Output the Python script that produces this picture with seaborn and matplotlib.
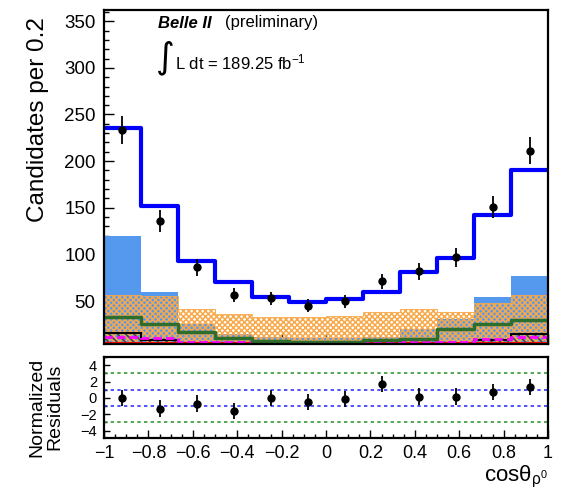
import numpy as np
import pandas as pd
import matplotlib
matplotlib.use("Agg")
import matplotlib.pyplot as plt
from matplotlib.ticker import MultipleLocator, FuncFormatter
import seaborn as sns

# binning of cos(theta_rho0), 12 bins from -1 to 1
bin_edges = np.linspace(-1, 1, 13)
bin_centers = 0.5 * (bin_edges[:-1] + bin_edges[1:])

# data points and errors
data_vals = [233, 136, 86, 56, 53, 45, 50, 71, 82, 97, 151, 211]
data_errs = [15, 12, 9, 7.5, 7, 7, 7, 8.5, 9, 10, 12, 14.5]

# fit components
total_fit = [235, 152, 93, 70, 54, 49, 52, 60, 81, 96, 142, 191]
light_blue = [120, 60, 25, 15, 11, 10, 10, 11, 20, 31, 54, 77]
orange_hatch = [57, 55, 42, 36, 33, 33, 34, 38, 42, 38, 48, 56]
green_line = [33, 25, 17, 10.5, 7, 6, 6, 8, 9, 20, 25, 30]
black_hatch = [16, 8, 4, 3, 2, 2, 2, 2, 3, 4, 8, 15]
magenta_line = [12, 10, 6, 6, 5, 5, 5, 5, 6, 6, 9, 11]
red_line = [5, 5, 5, 5, 5, 5, 5, 5, 5, 5, 5, 5]

# normalized residuals
resid_vals = [0.0, -1.3, -0.7, -1.6, 0.0, -0.5, -0.15, 1.7, 0.15, 0.15, 0.7, 1.3]
resid_errs = [1, 1, 1, 1, 1, 1, 1, 1, 1, 1, 1, 1]

hist_df = pd.DataFrame({"cos": bin_centers, "total": total_fit, "green": green_line})

sns.set_theme(style="ticks")
plt.rcParams["font.family"] = ["Liberation Sans", "DejaVu Sans"]
plt.rcParams["mathtext.fontset"] = "custom"
plt.rcParams["mathtext.rm"] = "Liberation Sans"
plt.rcParams["mathtext.it"] = "Liberation Sans:italic"
plt.rcParams["mathtext.bf"] = "Liberation Sans:bold"
plt.rcParams["hatch.linewidth"] = 1.1
plt.rcParams["axes.unicode_minus"] = True
for key in ("text.color", "axes.labelcolor", "xtick.color", "ytick.color",
            "axes.edgecolor"):
    plt.rcParams[key] = "black"

W, H = 574, 494
fig = plt.figure(figsize=(W / 100, H / 100), dpi=100)
ax = fig.add_axes([104 / W, 1 - 344 / H, 444 / W, 334 / H])
rax = fig.add_axes([104 / W, 1 - 438 / H, 444 / W, 81 / H])

# ---- main panel ----
ax.stairs(light_blue, bin_edges, fill=True, color="#5599ee", linewidth=0)
ax.stairs(orange_hatch, bin_edges, fill=True, facecolor="none",
          edgecolor="#f8a848", hatch="xxxxxx", linewidth=0.6)
ax.stairs(black_hatch, bin_edges, fill=True, facecolor="none",
          edgecolor="#444444", hatch="\\\\\\\\", linewidth=0)
ax.stairs(black_hatch, bin_edges, color="black", linewidth=1.5, baseline=None)
ax.stairs(red_line, bin_edges, color="red", linewidth=1.5, baseline=None)
ax.stairs(magenta_line, bin_edges, color="#ff00ff", linewidth=2,
          linestyle=(0, (3, 1.5)), baseline=None)
sns.histplot(data=hist_df, x="cos", weights="green", bins=list(bin_edges),
             element="step", fill=False, color="#2d6e2d", linewidth=2.5, ax=ax)
sns.histplot(data=hist_df, x="cos", weights="total", bins=list(bin_edges),
             element="step", fill=False, color="#0000ff", linewidth=3, ax=ax)
ax.errorbar(bin_centers, data_vals, yerr=data_errs, fmt="o", color="black",
            ms=5, elinewidth=1.3, capsize=0, zorder=10)

ax.set_xlim(-1, 1)
ax.set_ylim(4, 362)
ax.set_xlabel("")
ax.set_ylabel("")
ax.xaxis.set_major_locator(MultipleLocator(0.2))
ax.xaxis.set_minor_locator(MultipleLocator(0.05))
ax.yaxis.set_major_locator(MultipleLocator(50))
ax.yaxis.set_minor_locator(MultipleLocator(10))
ax.tick_params(which="both", direction="in", top=False, right=False,
               labelbottom=False, labelsize=13.5, pad=6, width=1)
ax.tick_params(which="major", length=7)
ax.tick_params(which="minor", length=3.5)

# ---- residual panel ----
for yv in (1, -1):
    rax.axhline(yv, color="#3333ff", linestyle=(0, (2, 2)), linewidth=1.2)
for yv in (3, -3):
    rax.axhline(yv, color="#339933", linestyle=(0, (2, 2)), linewidth=1.2)
rax.errorbar(bin_centers, resid_vals, yerr=resid_errs, fmt="o", color="black",
             ms=5, elinewidth=1.3, capsize=0, zorder=10)
rax.set_xlim(-1, 1)
rax.set_ylim(-4.9, 5.0)
rax.xaxis.set_major_locator(MultipleLocator(0.2))
rax.xaxis.set_minor_locator(MultipleLocator(0.05))
rax.yaxis.set_major_locator(MultipleLocator(2))
rax.yaxis.set_minor_locator(MultipleLocator(1))


def fmt_tick(v, pos):
    if abs(v) < 1e-9:
        v = 0.0
    return ("%g" % round(v, 2)).replace("-", "\u2212")


rax.xaxis.set_major_formatter(FuncFormatter(fmt_tick))
rax.yaxis.set_major_formatter(FuncFormatter(fmt_tick))
rax.tick_params(which="both", direction="in", top=False, right=False, width=1)
rax.tick_params(axis="x", which="major", length=6, labelsize=13, pad=5)
rax.tick_params(axis="x", which="minor", length=3)
rax.tick_params(axis="y", which="major", length=4, labelsize=10.5, pad=5)
rax.tick_params(axis="y", which="minor", length=2)

for a in (ax, rax):
    for s in a.spines.values():
        s.set_linewidth(1.6)
        s.set_color("black")

# ---- labels and texts ----
fig.text(38 / W, 1 - 17 / H, "Candidates per 0.2", rotation=90,
         ha="center", va="top", fontsize=17.5)
fig.text(46 / W, 1 - 407 / H, "Normalized\nResiduals", rotation=90,
         ha="center", va="center", multialignment="center", fontsize=14,
         linespacing=1.05)
fig.text(548 / W, 1 - 481 / H, r"cos$\mathregular{\theta_{\rho^{0}}}$",
         ha="right", va="baseline", fontsize=16)

fig.text(158 / W, 1 - 23 / H, "Belle II", fontsize=12, weight="bold",
         style="italic", va="center")
fig.text(225 / W, 1 - 23 / H, "(preliminary)", fontsize=12, va="center")
fig.text(156 / W, 1 - 58 / H, "\u222b", fontsize=26, va="center",
         family=["DejaVu Sans"])
fig.text(175 / W, 1 - 62 / H, r"L dt = 189.25 fb$^{\mathregular{-1}}$",
         fontsize=12, va="center")

fig.savefig("out.png", dpi=100)
